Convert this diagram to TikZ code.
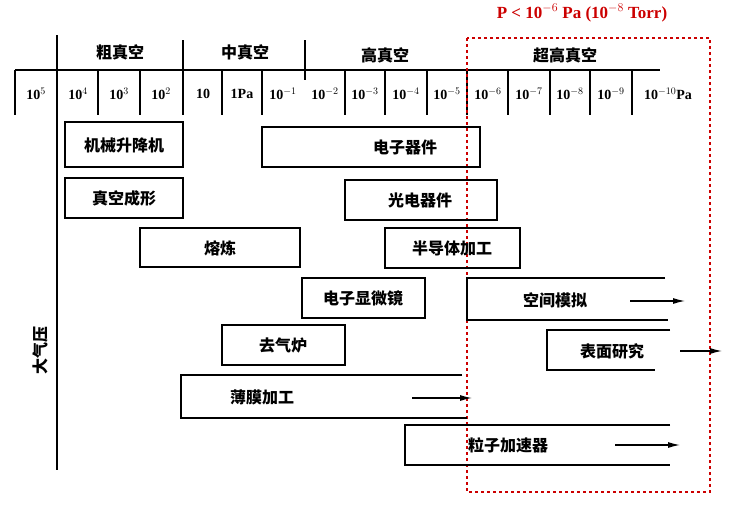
\documentclass[tikz,border=0pt]{standalone}
\usepackage{fontspec}
\setmainfont{Liberation Serif}
\newfontfamily\cjk{Noto Sans CJK SC}
\usetikzlibrary{arrows.meta}
\tikzset{
  box/.style={draw, very thick},
  lbl/.style={font=\cjk\bfseries\fontsize{16}{18}\selectfont},
  val/.style={font=\bfseries\fontsize{14}{16}\selectfont, inner sep=0pt},
  far/.style={very thick, -{Latex[length=12pt,width=6pt]}},
}
\begin{document}
\begin{tikzpicture}[x=1pt,y=-1pt]
  \useasboundingbox (0,0) rectangle (746,506);
  % scale
  \draw[line width=2pt] (15,70) -- (660,70);
  \draw[line width=2pt] (57,35) -- (57,470);
  \draw[line width=2pt] (183,40) -- (183,115);
  \draw[line width=2pt] (305,40) -- (305,80);
  \foreach \x in {15,98,140,222,262,345,385,427,467,508,550,590,632}
    \draw[very thick] (\x,70) -- (\x,115);
  \node[val] (t1) at (36,94) {10$^{5}$};
  \node[val] (t2) at (78,94) {10$^{4}$};
  \node[val] (t3) at (119,94) {10$^{3}$};
  \node[val] (t4) at (161,94) {10$^{2}$};
  \node[val] (t5) at (203,94) {10};
  \node[val] (t6) at (242,94) {1Pa};
  \node[val] (t7) at (283,94) {10$^{-1}$};
  \node[val] (t8) at (325,94) {10$^{-2}$};
  \node[val] (t9) at (365,94) {10$^{-3}$};
  \node[val] (t10) at (406,94) {10$^{-4}$};
  \node[val] (t11) at (447,94) {10$^{-5}$};
  \node[val] (t12) at (488,94) {10$^{-6}$};
  \node[val] (t13) at (529,94) {10$^{-7}$};
  \node[val] (t14) at (570,94) {10$^{-8}$};
  \node[val] (t15) at (611,94) {10$^{-9}$};
  \node[val] (t16) at (668,94) {10$^{-10}$Pa};
  \node[lbl] (r1) at (120,52) {粗真空};
  \node[lbl] (r2) at (245,52) {中真空};
  \node[lbl] (r3) at (385,55) {高真空};
  \node[lbl] (r4) at (565,55) {超高真空};
  \node[lbl, rotate=90] (atm) at (40,350) {大气压};
  % red region
  \node[text=red!80!black, font=\bfseries\fontsize{17}{19}\selectfont] (ttl) at (582,13) {P < 10$^{-6}$ Pa (10$^{-8}$ Torr)};
  \draw[red!80!black, line width=2.5pt, dash pattern=on 3pt off 3pt] (467,38) rectangle (710,492);
  % closed boxes
  \draw[box] (65,122) rectangle (183,167);
  \node[lbl] (b1) at (124,145) {机械升降机};
  \draw[box] (262,127) rectangle (480,167);
  \node[lbl] (b2) at (405,147) {电子器件};
  \draw[box] (65,178) rectangle (183,218);
  \node[lbl] (b3) at (124,198) {真空成形};
  \draw[box] (345,180) rectangle (497,220);
  \node[lbl] (b4) at (420,200) {光电器件};
  \draw[box] (140,228) rectangle (300,267);
  \node[lbl] (b5) at (220,248) {熔炼};
  \draw[box] (385,228) rectangle (520,268);
  \node[lbl] (b6) at (452,248) {半导体加工};
  \draw[box] (302,278) rectangle (425,318);
  \node[lbl] (b7) at (363,298) {电子显微镜};
  \draw[box] (222,325) rectangle (345,365);
  \node[lbl] (b8) at (283,345) {去气炉};
  % open boxes
  \draw[box] (665,278) -- (467,278) -- (467,320) -- (668,320);
  \node[lbl] (b9) at (555,300) {空间模拟};
  \coordinate (a9) at (630,301);
  \coordinate (e9) at (685,301);
  \draw[far] (a9) -- (e9);
  \draw[box] (670,330) -- (547,330) -- (547,370) -- (655,370);
  \node[lbl] (b10) at (612,351) {表面研究};
  \coordinate (a10) at (680,351);
  \coordinate (e10) at (722,351);
  \draw[far] (a10) -- (e10);
  \draw[box] (462,375) -- (181,375) -- (181,418) -- (467,418);
  \node[lbl] (b11) at (262,397) {薄膜加工};
  \coordinate (a11) at (412,398);
  \coordinate (e11) at (472,398);
  \draw[far] (a11) -- (e11);
  \draw[box] (670,425) -- (405,425) -- (405,465) -- (670,465);
  \node[lbl] (b12) at (508,445) {粒子加速器};
  \coordinate (a12) at (615,445);
  \coordinate (e12) at (680,445);
  \draw[far] (a12) -- (e12);
\end{tikzpicture}
\end{document}
